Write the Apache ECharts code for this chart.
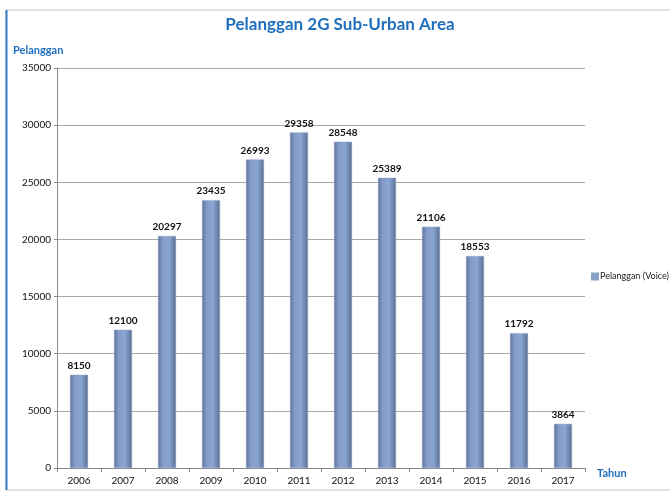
<!DOCTYPE html>
<html>
<head>
<meta charset="utf-8">
<script src="https://cdn.jsdelivr.net/npm/echarts@6/dist/echarts.min.js"></script>
<style>
  html, body { margin: 0; padding: 0; background: #fff; }
  #chart { width: 670px; height: 493px; }
</style>
</head>
<body>
<div id="chart"></div>
<script>
const years = ['2006', '2007', '2008', '2009', '2010', '2011', '2012', '2013', '2014', '2015', '2016', '2017']
const pelanggan = [8150, 12100, 20297, 23435, 26993, 29358, 28548, 25389, 21106, 18553, 11792, 3864]

const myChart = echarts.init(document.getElementById('chart'))
const font = 'Lato, "Open Sans", sans-serif'

const barColor = new echarts.graphic.LinearGradient(0, 0, 1, 0, [
  { offset: 0, color: '#5f7399' },
  { offset: 0.25, color: '#819ac8' },
  { offset: 0.6, color: '#8ca6d3' },
  { offset: 1, color: '#5d7095' }
])

const option = {
  animation: false,
  textStyle: { fontFamily: font },
  title: {
    text: 'Pelanggan 2G Sub-Urban Area',
    left: 335,
    textAlign: 'center',
    top: 11,
    textStyle: { color: '#1f6fbf', fontSize: 17, fontWeight: 'bold', fontFamily: font }
  },
  legend: {
    data: ['Pelanggan (Voice)'],
    orient: 'vertical',
    left: 586,
    top: 267,
    itemWidth: 6,
    itemHeight: 6,
    itemGap: 3,
    icon: 'rect',
    textStyle: { fontSize: 9, color: '#222', fontFamily: font, padding: [0, 0, 0, -3] }
  },
  grid: { left: 57, right: 85, top: 68, bottom: 25 },
  xAxis: {
    type: 'category',
    data: years,
    name: 'Tahun',
    nameLocation: 'end',
    nameGap: 12,
    nameTextStyle: { color: '#1f6fbf', fontWeight: 'bold', fontSize: 11, verticalAlign: 'top' },
    axisLine: { lineStyle: { color: '#888' } },
    axisTick: { show: true, length: 4, lineStyle: { color: '#888' } },
    axisLabel: { color: '#111', fontSize: 10, margin: 8 }
  },
  yAxis: {
    type: 'value',
    min: 0,
    max: 35000,
    interval: 5000,
    name: 'Pelanggan',
    nameLocation: 'end',
    nameGap: 12,
    nameTextStyle: { color: '#1f6fbf', fontWeight: 'bold', fontSize: 11, align: 'left', padding: [0, 0, 0, -44] },
    axisLine: { show: true, lineStyle: { color: '#888' } },
    axisTick: { show: true, length: 3, lineStyle: { color: '#888' } },
    axisLabel: { color: '#111', fontSize: 10, margin: 6, formatter: v => String(v) },
    splitLine: { lineStyle: { color: '#a8a8a8' } }
  },
  series: [
    {
      name: 'Pelanggan (Voice)',
      type: 'bar',
      data: pelanggan,
      barWidth: 18,
      itemStyle: {
        color: barColor,
        borderColor: '#8aa0c4',
        borderWidth: 0.5
      },
      label: {
        show: true,
        position: 'top',
        distance: 4,
        color: '#111',
        fontWeight: 'bold',
        fontSize: 10
      }
    }
  ],
  graphic: [
    {
      type: 'rect',
      shape: { x: 6, y: 10, width: 700, height: 480 },
      style: { fill: 'none', stroke: '#c8c8c8', lineWidth: 1 },
      silent: true
    },
    {
      type: 'line',
      shape: { x1: 6.5, y1: 10, x2: 6.5, y2: 490 },
      style: { stroke: '#3a7cc6', lineWidth: 2 },
      silent: true
    }
  ]
}

option && myChart.setOption(option)
</script>
</body>
</html>
